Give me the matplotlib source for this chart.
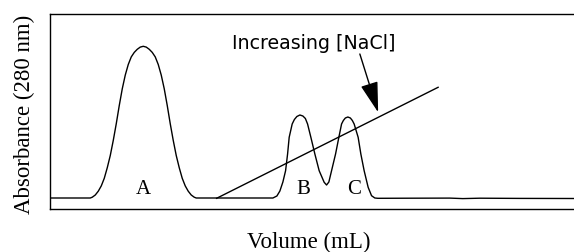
import matplotlib
matplotlib.use("Agg")
import matplotlib.pyplot as plt

# chromatogram trace (volume and absorbance in arbitrary units)
volume = [0, 40.3, 42.3, 45.3, 48.3, 51.3, 54.3, 57.3, 60.3, 63.3, 66.3, 69.3, 72.3, 75.3, 78.3, 81.3, 84.3, 87.3, 90.3, 93.3,
          96.3, 99.3, 102.3, 105.3, 108.3, 111.3, 114.3, 117.3, 120.3, 123.3, 126.3, 129.3, 132.3, 135.3, 138.3, 141.3, 144.3, 146.3,
          223, 227, 230, 233, 235.7, 237.7, 239.3, 242.3, 244.5, 247, 250, 253, 255.5, 257.7, 261, 265, 269.3, 274.3, 276.7,
          279, 281.7, 285.7, 289, 291.7, 293.5, 295.5, 298, 300.5, 302.5, 304.3, 308.3, 311, 314.3, 318.3, 321.7, 325, 328,
          360, 400, 413, 430, 470, 524]
absorbance = [11, 11, 11.8, 14.0, 17.8, 23.1, 30.7, 41.3, 53.5, 68.6, 85.3, 103.5, 120.2, 133.9, 144.5, 152.1, 156.6, 159.7, 161.9, 162.7,
              161.9, 159.7, 156.6, 152.1, 144.5, 133.9, 120.2, 103.5, 85.3, 68.6, 53.5, 41.3, 30.7, 23.1, 17.8, 14.0, 11.8, 11,
              11, 13, 18, 27, 38.3, 55, 71.7, 85, 89.5, 92.5, 94, 93, 90.5, 85, 71.7, 55, 38.3, 26.7, 24,
              27, 38.3, 55, 71.7, 85, 88.5, 91, 92, 91, 88.5, 85, 71.7, 55, 38.3, 21.7, 13.3, 11, 10.7,
              10.8, 10.9, 10.4, 10.8, 10.6, 10.5]

# salt gradient line
gradient_x = [166.7, 388.3]
gradient_y = [10.7, 121.7]

peak_labels = ["A", "B", "C"]
peak_label_x = [93, 253.3, 304]
peak_label_y = [16, 16, 16]

fig = plt.figure(figsize=(5.74, 2.53), dpi=100)
ax = fig.add_axes([50/574, 1 - 210/253, 1 - 50/574 + 0.01, 195/253])
ax.plot(volume, absorbance, color="black", lw=1.0, solid_joinstyle="round")
ax.plot(gradient_x, gradient_y, color="black", lw=1.0)
ax.set_xlim(0, 530)
ax.set_ylim(0, 195)
ax.set_xticks([])
ax.set_yticks([])
ax.spines["right"].set_visible(False)
for s in ["left", "top", "bottom"]:
    ax.spines[s].set_linewidth(1.0)

for lab, lx, ly in zip(peak_labels, peak_label_x, peak_label_y):
    ax.text(lx, ly, lab, family="Liberation Serif", fontsize=15, ha="center", va="baseline")

ax.text(264, 161, "Increasing [NaCl]", family="DejaVu Sans", fontsize=13.7, ha="center", va="baseline")
ax.annotate("", xy=(328.3, 96.7), xytext=(310, 155),
            arrowprops=dict(arrowstyle="-|>,head_length=1.9,head_width=0.55", color="black", lw=1.0,
                            shrinkA=0, shrinkB=0))

fig.text(24/574, 1 - 114/253, "Absorbance (280 nm)", family="Liberation Serif", fontsize=16.5,
         rotation=90, ha="center", va="center")
fig.text(309/574, 1 - 242/253, "Volume (mL)", family="Liberation Serif", fontsize=16.5,
         ha="center", va="center")

fig.savefig("out.png", dpi=100)
